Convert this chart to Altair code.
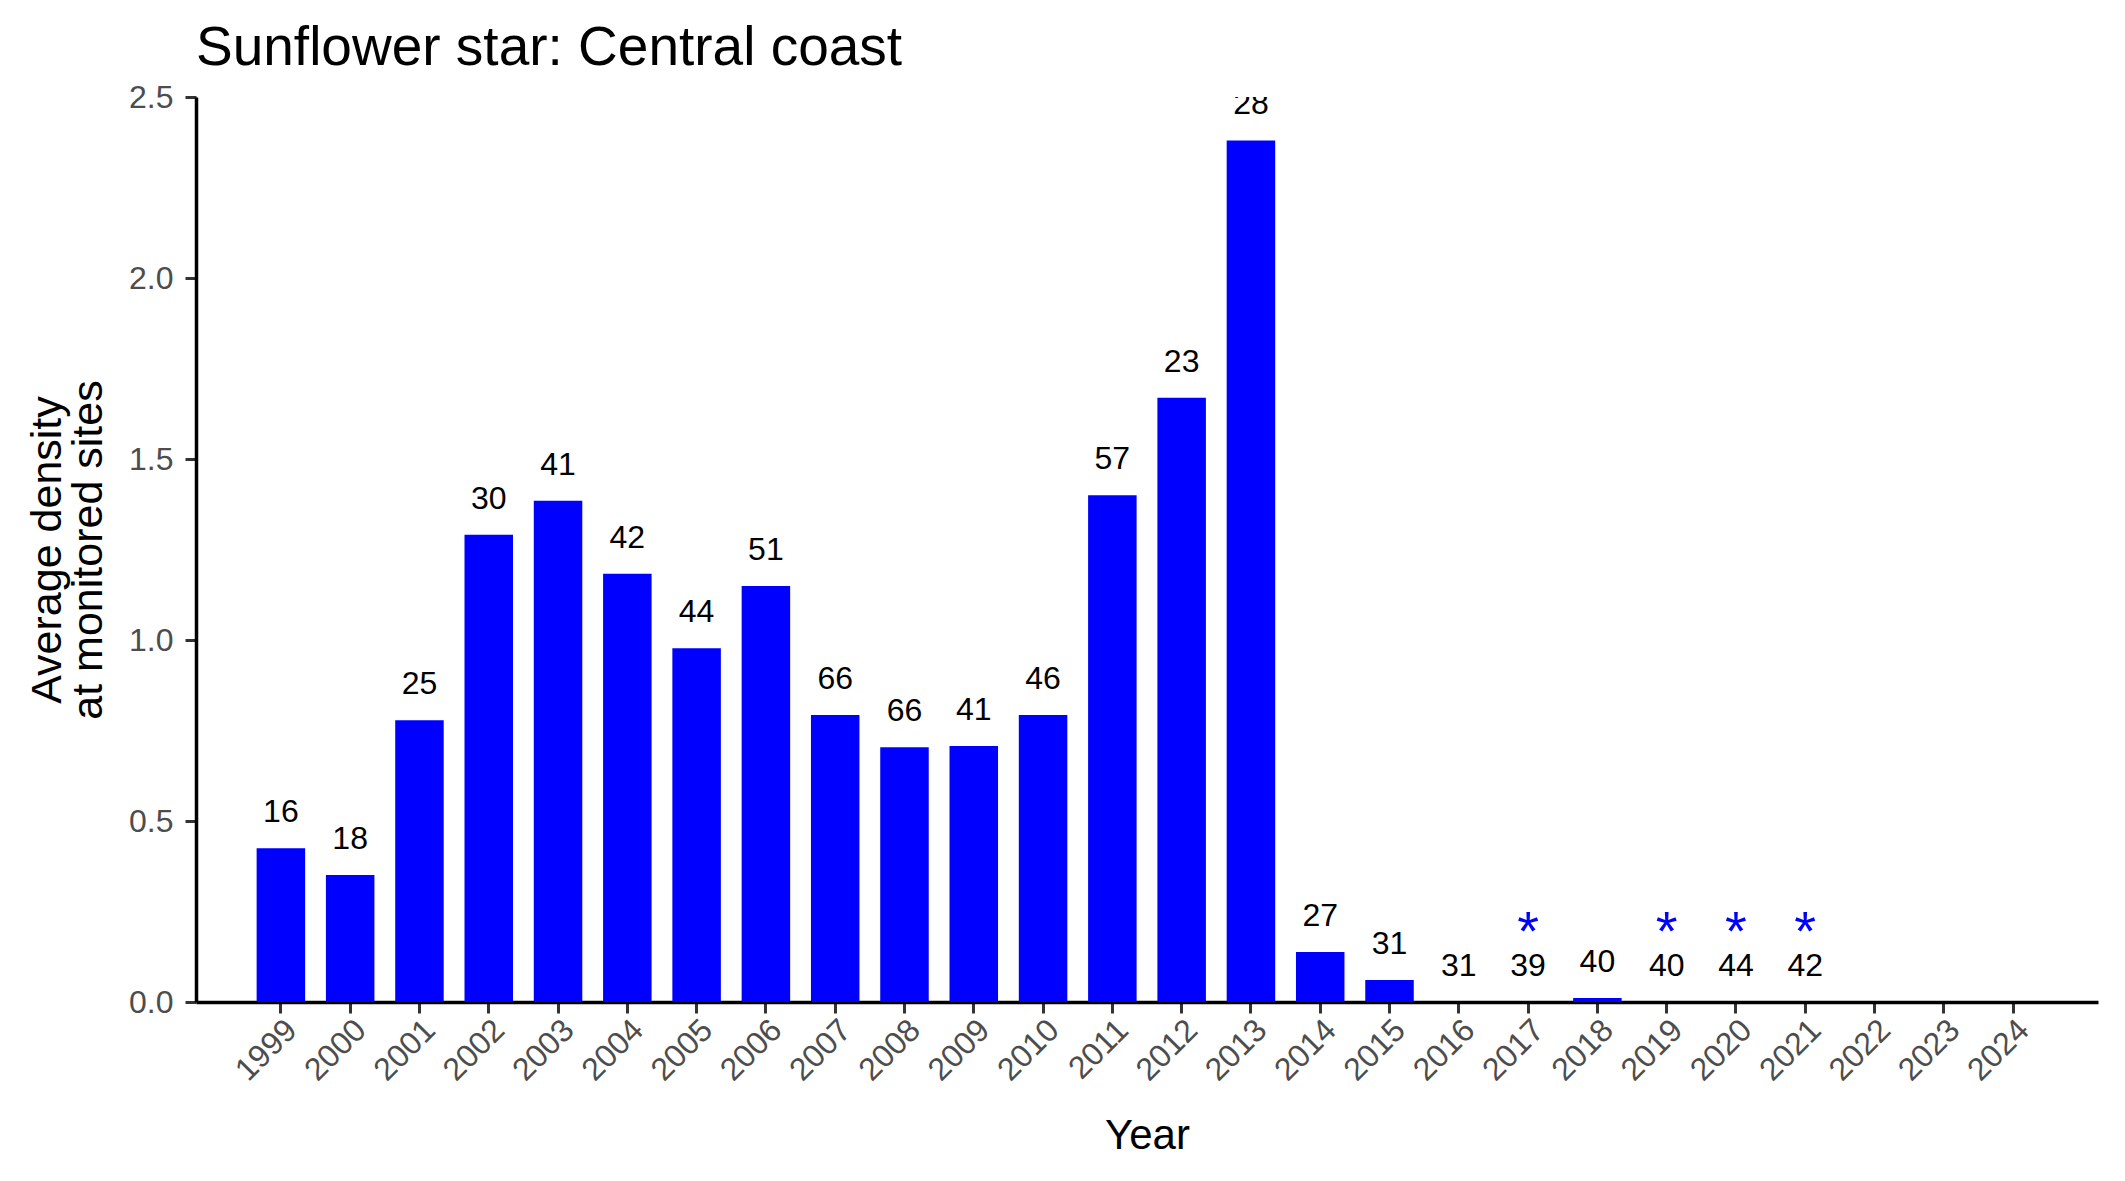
import altair as alt
import pandas as pd

years_axis = [str(y) for y in range(1999, 2025)]
years = [str(y) for y in range(1999, 2022)]
density = [0.425, 0.351, 0.778, 1.291, 1.385, 1.183, 0.977, 1.149, 0.793, 0.704,
           0.707, 0.793, 1.400, 1.669, 2.380, 0.138, 0.061, 0.0, 0.0, 0.011,
           0.0, 0.0, 0.0]
n_sites = [16, 18, 25, 30, 41, 42, 44, 51, 66, 66, 41, 46, 57, 23, 28, 27, 31,
           31, 39, 40, 40, 44, 42]
star_years = ["2017", "2019", "2020", "2021"]
star_y = [0.144, 0.144, 0.144, 0.144]

df = pd.DataFrame({"Year": years, "density": density, "n": [str(v) for v in n_sites]})
stars = pd.DataFrame({"Year": star_years, "y": star_y, "s": ["*"] * len(star_years)})

W, H = 1902, 905
FONT = "Liberation Sans"
xscale = alt.Scale(domain=years_axis, paddingInner=0.3, paddingOuter=0.875)
yscale = alt.Scale(domain=[0, 2.5], nice=False)

xenc = alt.X("Year:O", scale=xscale,
             axis=alt.Axis(title="Year", labelAngle=-45, labelAlign="right", labelBaseline="top",
                           labelFontSize=32, labelColor="#4d4d4d", labelFont=FONT, labelPadding=1,
                           tickSize=11, tickWidth=3, tickColor="#333333",
                           domainColor="black", domainWidth=3.5,
                           titleFontSize=42, titleFont=FONT, titleFontWeight="normal",
                           titleColor="black", titleX=W / 2, titleY=146,
                           titleBaseline="alphabetic", titleAlign="center"))

bars = alt.Chart(df).mark_bar(color="#0000ff").encode(
    x=xenc,
    y=alt.Y("density:Q", scale=yscale,
            axis=alt.Axis(title=["Average density", "at monitored sites"],
                          values=[0, 0.5, 1.0, 1.5, 2.0, 2.5], format=".1f",
                          labelFontSize=32, labelColor="#4d4d4d", labelFont=FONT,
                          labelPadding=12, tickSize=11, tickWidth=3, tickColor="#333333",
                          domainColor="black", domainWidth=3.5, grid=False,
                          titleFontSize=43, titleFont=FONT, titleFontWeight="normal",
                          titleColor="black", titleAngle=-90, titleX=-149, titleY=H / 2,
                          titleAlign="center", titleBaseline="middle", titleLineHeight=41)),
)

labels = alt.Chart(df).mark_text(fontSize=32, font=FONT, color="black", baseline="alphabetic",
                                 dy=-26, clip=True).encode(
    x=alt.X("Year:O", scale=xscale),
    y=alt.Y("density:Q", scale=yscale),
    text="n:N",
)

star_marks = alt.Chart(stars).mark_text(fontSize=56, font=FONT, color="#0000ff",
                                        baseline="alphabetic").encode(
    x=alt.X("Year:O", scale=xscale),
    y=alt.Y("y:Q", scale=yscale),
    text="s:N",
)

chart = alt.layer(bars, labels, star_marks).properties(
    width=W, height=H,
    title=alt.TitleParams("Sunflower star: Central coast", anchor="start", frame="group",
                          fontSize=55, font=FONT, fontWeight="normal", color="black",
                          baseline="alphabetic", offset=36, dy=75),
    autosize=alt.AutoSizeParams(type="none"),
    padding={"left": 196, "top": 97, "right": 27, "bottom": 179},
    background="white",
).configure_view(stroke=None)

chart.save("out.html", embed_options={"renderer": "svg", "actions": False})
